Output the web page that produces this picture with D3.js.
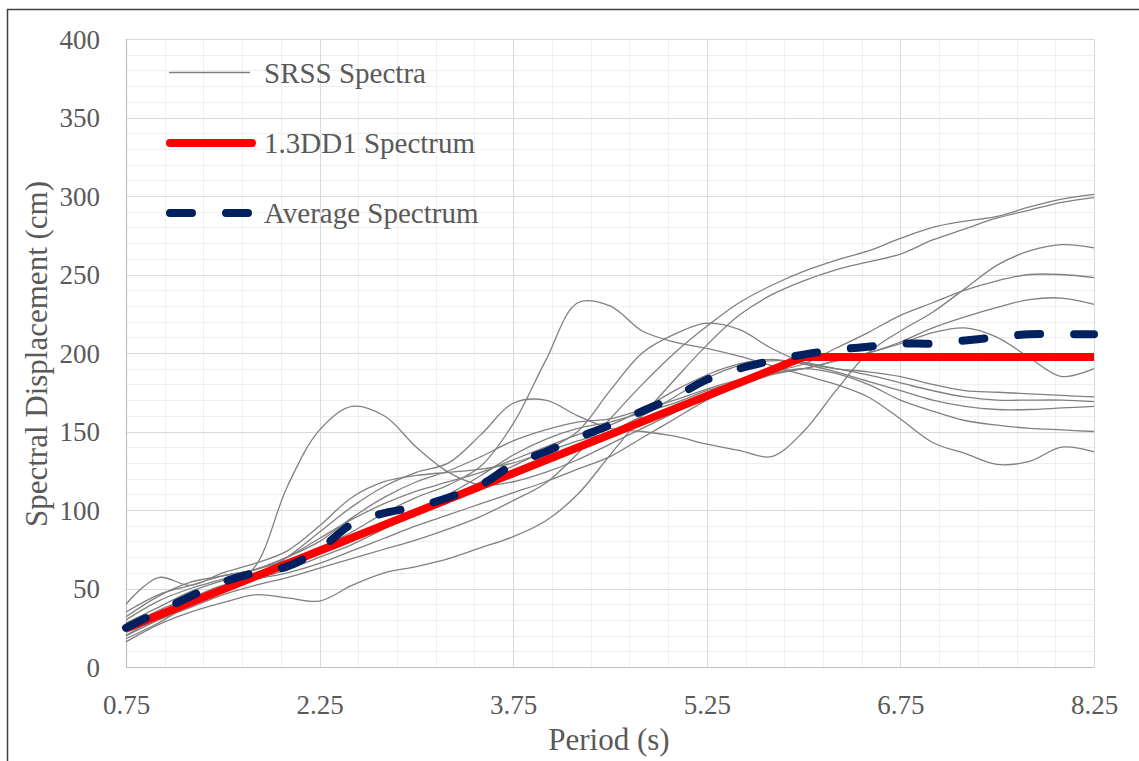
<!DOCTYPE html>
<html><head><meta charset="utf-8">
<script src="https://cdn.jsdelivr.net/npm/d3@7"></script>
<style>html,body{margin:0;padding:0;background:#fff;overflow:hidden}</style>
</head><body>
<svg id="chart" width="1139" height="761"></svg>
<script>
// ---------------- data ----------------
const periods = [0.75,1.0,1.25,1.5,1.75,2.0,2.25,2.5,2.75,3.0,3.25,3.5,3.75,4.0,4.25,4.5,4.75,5.0,5.25,5.5,5.75,6.0,6.25,6.5,6.75,7.0,7.25,7.5,7.75,8.0,8.25];

const srss01 = [22,30,38,46,52,57,63,69,75,81,88,96,106,117,136,158,180,200,217,232,243,252,259,265,273,280,284,287,293,298,301];
const srss02 = [16,27,35,41,46,44,42,52,60,64,69,76,83,93,110,135,160,183,205,224,237,246,253,258,263,272,279,286,291,296,299];
const srss03 = [18,28,40,50,58,70,86,102,115,124,130,148,168,170,160,152,150,147,142,138,134,150,176,200,214,226,241,256,265,269,267];
const srss04 = [35,46,52,58,62,70,80,95,108,118,125,134,144,151,156,158,164,170,177,183,188,193,203,213,224,232,240,246,250,250,248];
const srss05 = [28,38,48,55,60,66,72,80,90,100,110,122,135,145,152,156,162,168,176,182,187,190,195,200,207,216,223,229,234,235,231];
const srss06 = [25,36,44,52,56,60,66,74,82,90,97,104,111,118,126,134,146,158,170,179,186,190,195,200,206,213,216,210,197,185,190];
const srss07 = [20,32,42,50,56,62,70,78,88,98,108,118,128,138,150,176,200,212,219,215,203,194,190,188,185,180,176,175,174,173,172];
const srss08 = [40,57,52,60,66,74,90,108,118,122,124,126,130,137,144,150,160,172,184,192,195,194,190,186,181,176,172,170,170,170,169];
const srss09 = [30,42,50,56,62,70,82,94,104,112,118,124,132,140,148,154,164,176,186,193,196,193,188,182,176,170,166,164,164,165,166];
const srss10 = [20,30,40,48,64,115,151,166,160,140,124,116,118,124,132,142,152,162,172,181,187,190,187,180,170,163,157,154,152,151,150];
const srss11 = [32,45,54,58,62,68,76,86,98,108,116,128,155,195,232,230,214,207,203,198,192,186,180,172,158,143,136,129,131,140,137];
const srssSeries = [srss01,srss02,srss03,srss04,srss05,srss06,srss07,srss08,srss09,srss10,srss11];

const averageSpectrum = [25,35,45,54,60,64,75,91,98,102,108,116,129,137,146,154,163,172,183,190,195,199,202,204,206,206,208,210,212,212,212];

const designPeriods = [0.75,2.25,3.75,5.25,6.0,6.75,8.25];
const designSpectrum = [24.7,74,123.4,172.7,197.4,197.4,197.4];

const xTicks = [0.75,2.25,3.75,5.25,6.75,8.25];
const yTicks = [0,50,100,150,200,250,300,350,400];
const legendLabels = ["SRSS Spectra","1.3DD1 Spectrum","Average Spectrum"];

// ---------------- chart ----------------
const svg = d3.select("#chart");
const font = "'Liberation Serif','Times New Roman',serif";
const textColor = "#595959";
const L = 126, R = 1094, T = 39, B = 667;

const x = d3.scaleLinear().domain([0.75, 8.25]).range([L, R]);
const y = d3.scaleLinear().domain([0, 400]).range([B, T]);

svg.append("rect").attr("width",1139).attr("height",761).attr("fill","#fff");
svg.append("rect").attr("x",7.5).attr("y",9.5).attr("width",1150).attr("height",770)
  .attr("fill","none").attr("stroke","#404040").attr("stroke-width",1.5);

const xMinor = d3.range(0, 26).map(i => 0.75 + i * 0.3);
const yMinor = d3.range(0, 41).map(i => i * 10);
const grid = svg.append("g");
grid.selectAll("line.ym").data(yMinor).join("line")
  .attr("x1", L).attr("x2", R).attr("y1", d => Math.round(y(d))+0.5).attr("y2", d => Math.round(y(d))+0.5)
  .attr("stroke", "#efefef").attr("stroke-width", 1);
grid.selectAll("line.xm").data(xMinor).join("line")
  .attr("y1", T).attr("y2", B).attr("x1", d => Math.round(x(d))+0.5).attr("x2", d => Math.round(x(d))+0.5)
  .attr("stroke", "#efefef").attr("stroke-width", 1);
grid.selectAll("line.yM").data(yTicks).join("line")
  .attr("x1", L).attr("x2", R).attr("y1", d => Math.round(y(d))+0.5).attr("y2", d => Math.round(y(d))+0.5)
  .attr("stroke", "#d9d9d9").attr("stroke-width", 1);
grid.selectAll("line.xM").data(xTicks).join("line")
  .attr("y1", T).attr("y2", B).attr("x1", d => Math.round(x(d))+0.5).attr("x2", d => Math.round(x(d))+0.5)
  .attr("stroke", "#d9d9d9").attr("stroke-width", 1);
svg.append("line").attr("x1",L+0.5).attr("x2",L+0.5).attr("y1",T).attr("y2",B+0.5).attr("stroke","#bfbfbf").attr("stroke-width",1.2);
svg.append("line").attr("x1",L).attr("x2",R+0.5).attr("y1",B+0.5).attr("y2",B+0.5).attr("stroke","#bfbfbf").attr("stroke-width",1.2);

const xAxis = d3.axisBottom(x).tickValues(xTicks).tickFormat(d3.format(".2f")).tickSize(0).tickPadding(0);
const gx = svg.append("g").attr("transform", `translate(0,${B})`).call(xAxis);
gx.attr("font-family", font);
gx.select(".domain").remove();
gx.selectAll("text").attr("y", 47).attr("dy", 0).attr("font-family", font).attr("font-size", 27).attr("fill", textColor);

const yAxis = d3.axisLeft(y).tickValues(yTicks).tickFormat(d3.format("d")).tickSize(0).tickPadding(0);
const gy = svg.append("g").attr("transform", `translate(100,0)`).call(yAxis);
gy.attr("font-family", font);
gy.select(".domain").remove();
gy.selectAll("text").attr("x", 0).attr("dy", "0.34em").attr("font-family", font).attr("font-size", 27).attr("fill", textColor);

svg.append("text").attr("x", 609).attr("y", 750).attr("text-anchor","middle")
  .attr("font-family", font).attr("font-size", 31).attr("fill", textColor).text("Period (s)");
svg.append("text").attr("transform","translate(47,354) rotate(-90)").attr("text-anchor","middle")
  .attr("font-family", font).attr("font-size", 31).attr("fill", textColor).text("Spectral Displacement (cm)");

const lineGen = d3.line().x(d => x(d[0])).y(d => y(d[1])).curve(d3.curveCatmullRom.alpha(0.5));
const plot = svg.append("g");
plot.selectAll("path.srss").data(srssSeries).join("path")
  .attr("d", s => lineGen(periods.map((p,i) => [p, s[i]])))
  .attr("fill","none").attr("stroke","#808080").attr("stroke-width",1.3);

plot.append("path")
  .attr("d", d3.line().x(d => x(d[0])).y(d => y(d[1]))(designPeriods.map((p,i) => [p, designSpectrum[i]])))
  .attr("fill","none").attr("stroke","#ff0000").attr("stroke-width",8).attr("stroke-linejoin","round");

plot.append("path")
  .attr("d", lineGen(periods.map((p,i) => [p, averageSpectrum[i]])))
  .attr("fill","none").attr("stroke","#002060").attr("stroke-width",8)
  .attr("stroke-linecap","round").attr("stroke-dasharray","22,34");

const lg = svg.append("g");
lg.append("line").attr("x1",169).attr("x2",250).attr("y1",72.5).attr("y2",72.5).attr("stroke","#808080").attr("stroke-width",1.3);
lg.append("line").attr("x1",170).attr("x2",252).attr("y1",143).attr("y2",143).attr("stroke","#ff0000").attr("stroke-width",8).attr("stroke-linecap","round");
lg.append("line").attr("x1",170).attr("x2",252).attr("y1",213).attr("y2",213).attr("stroke","#002060").attr("stroke-width",8)
  .attr("stroke-linecap","round").attr("stroke-dasharray","22,34");
const legendY = [83, 153, 223];
lg.selectAll("text").data(legendLabels).join("text")
  .attr("x", 264).attr("y", (d,i) => legendY[i])
  .attr("font-family", font).attr("font-size", 29).attr("fill", textColor).text(d => d);
</script>
</body></html>
